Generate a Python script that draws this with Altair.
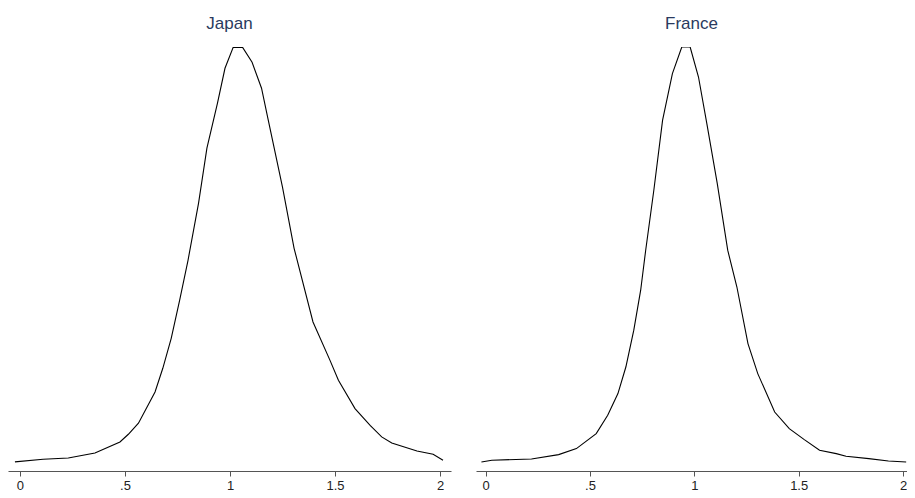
import altair as alt
import pandas as pd

# Japan kernel density
japan_x = [-0.024, 0.11, 0.23, 0.357, 0.476, 0.516, 0.564, 0.643, 0.68, 0.72, 0.76,
           0.80, 0.85, 0.89, 0.94, 0.976, 1.015, 1.06, 1.105, 1.15, 1.18, 1.25,
           1.305, 1.395, 1.476, 1.516, 1.595, 1.667, 1.722, 1.77, 1.89, 1.967, 2.014]
japan_y = [0.038, 0.049, 0.054, 0.075, 0.121, 0.153, 0.199, 0.329, 0.428, 0.553, 0.711,
           0.878, 1.115, 1.345, 1.532, 1.678, 1.765, 1.765, 1.703, 1.595, 1.470, 1.182,
           0.928, 0.621, 0.461, 0.378, 0.260, 0.190, 0.142, 0.117, 0.083, 0.070, 0.045]

# France kernel density
france_x = [-0.02, 0.03, 0.22, 0.35, 0.435, 0.53, 0.585, 0.634, 0.672, 0.71, 0.743,
            0.767, 0.806, 0.848, 0.895, 0.94, 0.98, 1.02, 1.06, 1.11, 1.16, 1.204,
            1.257, 1.304, 1.385, 1.455, 1.527, 1.60, 1.68, 1.727, 1.836, 1.93, 2.015]
france_y = [0.045, 0.054, 0.060, 0.082, 0.112, 0.187, 0.279, 0.387, 0.520, 0.704, 0.904,
            1.104, 1.404, 1.754, 1.987, 2.120, 2.120, 1.970, 1.737, 1.437, 1.104, 0.920,
            0.637, 0.487, 0.295, 0.212, 0.157, 0.104, 0.087, 0.074, 0.062, 0.050, 0.045]

tick_values = [0, 0.5, 1, 1.5, 2]
tick_labels = ["0", ".5", "1", "1.5", "2"]

label_expr = " : ".join(
    [f"datum.value == {v} ? '{l}'" for v, l in zip(tick_values, tick_labels)]
) + " : ''"

TITLE_COLOR = "#2a3a5e"
PLOT_H = 424


def panel(name, xs, ys, width, xmin, xmax, ymax):
    df = pd.DataFrame({"x": xs, "y": ys})
    return (
        alt.Chart(df, title=alt.Title(name, color=TITLE_COLOR, fontSize=17,
                                      font="Liberation Sans", fontWeight="normal",
                                      anchor="middle", baseline="alphabetic", offset=1))
        .mark_line(color="black", strokeWidth=1.1, clip=True)
        .encode(
            x=alt.X("x:Q", scale=alt.Scale(domain=[xmin, xmax], nice=False, zero=False),
                    axis=alt.Axis(values=tick_values, labelExpr=label_expr, title=None,
                                  grid=False, domainColor="#555555", tickColor="#555555",
                                  tickSize=5, labelFontSize=13, labelColor="#222222",
                                  labelFont="Liberation Sans", labelPadding=3,
                                  labelFlush=False, labelOverlap=False,
                                  domainWidth=1, tickWidth=1)),
            y=alt.Y("y:Q", scale=alt.Scale(domain=[0, ymax], nice=False, zero=False),
                    axis=None),
            order=alt.Order("x:Q"),
        )
        .properties(width=width, height=PLOT_H)
    )


left = panel("Japan", japan_x, japan_y, 443, -0.057, 2.052, PLOT_H / 240)
right = panel("France", france_x, france_y, 431, -0.046, 2.019, PLOT_H / 200)

chart = (
    alt.hconcat(left, right, spacing=25)
    .resolve_scale(y="independent", x="independent")
    .properties(padding={"left": 0, "top": 7, "right": 0, "bottom": 0},
                background="white")
    .configure_view(strokeWidth=0, stroke="transparent")
)

chart.save("out.html", embed_options={"renderer": "svg", "actions": False})
